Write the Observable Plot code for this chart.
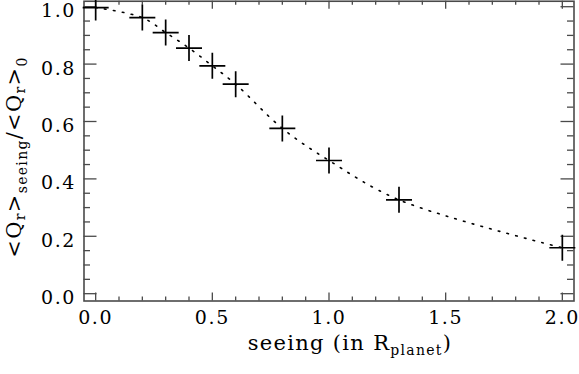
<!DOCTYPE html>
<html><head><meta charset="utf-8">
<script src="https://cdn.jsdelivr.net/npm/d3@7"></script>
<script src="https://cdn.jsdelivr.net/npm/@observablehq/plot@0.6"></script>
<style>
body{margin:0;background:#fff}
svg text{letter-spacing:1.6px}
svg text.title{letter-spacing:1.3px}
</style>
</head><body><div id="chart"></div>
<script>
// data
const seeing = [0.0, 0.2, 0.3, 0.4, 0.5, 0.6, 0.8, 1.0, 1.3, 2.0];
const ratio  = [0.997, 0.962, 0.910, 0.856, 0.794, 0.730, 0.576, 0.464, 0.327, 0.160];

// axis ticks
const xMajor = [0.0, 0.5, 1.0, 1.5, 2.0];
const xTickLabels = ["0.0", "0.5", "1.0", "1.5", "2.0"];
const xMinor = [0.1,0.2,0.3,0.4,0.6,0.7,0.8,0.9,1.1,1.2,1.3,1.4,1.6,1.7,1.8,1.9];
const yMajor = [0.0, 0.2, 0.4, 0.6, 0.8, 1.0];
const yTickLabels = ["0.0", "0.2", "0.4", "0.6", "0.8", "1.0"];
const yMinor = [0.05,0.1,0.15,0.25,0.3,0.35,0.45,0.5,0.55,0.65,0.7,0.75,0.85,0.9,0.95];

const W = 579, H = 374;
const mL = 83.5, mR = 5.5, mT = 0.75, mB = 73.5;
const innerW = W - mL - mR, innerH = H - mT - mB;

const data = seeing.map((x, i) => ({x, y: ratio[i]}));
const cross = {
  draw(ctx, size) {
    const r = Math.sqrt(size / Math.PI);
    ctx.moveTo(-r, 0); ctx.lineTo(r, 0);
    ctx.moveTo(0, -r); ctx.lineTo(0, r);
  }
};
const axisColor = "#4a4a4a";
const font = "DejaVu Serif";

const svg = Plot.plot({
  width: W, height: H,
  marginLeft: mL, marginRight: mR, marginTop: mT, marginBottom: mB,
  x: {domain: [-0.05, 2.05], axis: null},
  y: {domain: [-0.0255, 1.019], axis: null},
  style: {fontFamily: font, background: "#fff", color: "#000"},
  marks: [
    Plot.line(data, {x: "x", y: "y", curve: "catmull-rom", stroke: "#000", strokeWidth: 1.6, strokeDasharray: "1.6,7.4"}),
    Plot.ruleX(xMajor, {x: d => d, stroke: axisColor, strokeWidth: 1.3, insetTop: innerH - 8}),
    Plot.ruleX(xMinor, {x: d => d, stroke: axisColor, strokeWidth: 1.3, insetTop: innerH - 4}),
    Plot.ruleX(xMajor, {x: d => d, stroke: axisColor, strokeWidth: 1.3, insetBottom: innerH - 8}),
    Plot.ruleX(xMinor, {x: d => d, stroke: axisColor, strokeWidth: 1.3, insetBottom: innerH - 4}),
    Plot.ruleY(yMajor, {y: d => d, stroke: axisColor, strokeWidth: 1.3, insetRight: innerW - 13}),
    Plot.ruleY(yMinor, {y: d => d, stroke: axisColor, strokeWidth: 1.3, insetRight: innerW - 6.5}),
    Plot.ruleY(yMajor, {y: d => d, stroke: axisColor, strokeWidth: 1.3, insetLeft: innerW - 13}),
    Plot.ruleY(yMinor, {y: d => d, stroke: axisColor, strokeWidth: 1.3, insetLeft: innerW - 6.5}),
    Plot.frame({stroke: axisColor, strokeWidth: 1.6}),
    Plot.dot(data, {x: "x", y: "y", symbol: cross, r: 13, stroke: "#000", strokeWidth: 1.7, fill: "none"}),
    Plot.text(xMajor, {x: d => d, text: (d, i) => xTickLabels[i], frameAnchor: "bottom", dy: 23, fontSize: 19, fill: "#000"}),
    Plot.text(yMajor, {y: d => d, text: (d, i) => yTickLabels[i], frameAnchor: "left", textAnchor: "end", dx: -8, dy: 4.5, fontSize: 19, fill: "#000"})
  ]
});

const s = d3.select(svg);
// x axis title
const xt = s.append("text").attr("class", "title")
  .attr("x", 350).attr("y", 350)
  .attr("text-anchor", "middle")
  .attr("font-family", font).attr("font-size", 21).attr("fill", "#000");
xt.append("tspan").text("seeing (in R");
xt.append("tspan").attr("dy", 5).attr("font-size", 14).text("planet");
xt.append("tspan").attr("dy", -5).text(")");

// y axis title
const yt = s.append("text").attr("class", "title")
  .attr("transform", "translate(21,157) rotate(-90)")
  .attr("text-anchor", "middle")
  .attr("font-family", font).attr("font-size", 21).attr("fill", "#000");
yt.append("tspan").text("<Q");
yt.append("tspan").attr("dy", 4).attr("font-size", 14).text("r");
yt.append("tspan").attr("dy", -4).text(">");
yt.append("tspan").attr("dy", 6).attr("font-size", 14).text("seeing");
yt.append("tspan").attr("dy", -6).text("/<Q");
yt.append("tspan").attr("dy", 4).attr("font-size", 14).text("r");
yt.append("tspan").attr("dy", -4).text(">");
yt.append("tspan").attr("dy", 6).attr("font-size", 14).text("0");

document.getElementById("chart").append(svg);
</script>
</body></html>
